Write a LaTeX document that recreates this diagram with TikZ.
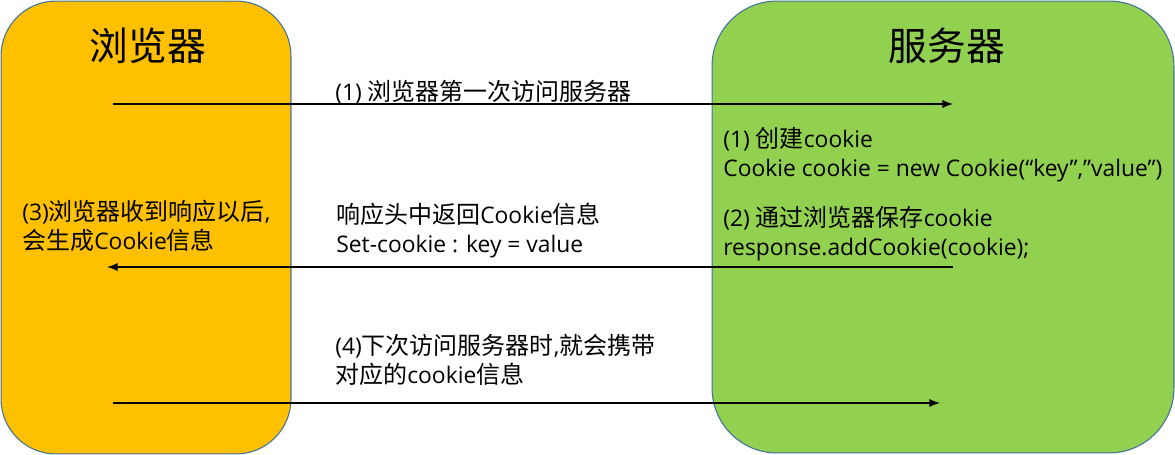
\documentclass[tikz,border=0pt]{standalone}
\usepackage{fontspec}
\setmainfont{Open Sans}
\newfontfamily\cjk[Scale=1.05]{Noto Sans CJK SC}
\usepackage{tikz}

\definecolor{browserfill}{HTML}{FFC000}
\definecolor{serverfill}{HTML}{92D050}
\definecolor{boxline}{HTML}{41719C}

\tikzset{
  side/.style={draw=boxline, line width=0.6pt, rounded corners=1.1cm, inner sep=0pt},
  title/.style={font=\cjk\fontsize{21}{26}\selectfont},
  note/.style={font=\fontsize{13}{16.5}\selectfont, align=left, anchor=west, inner sep=0pt},
  msg/.style={line width=1.1pt, -latex}
}

\begin{document}
\begin{tikzpicture}[x=0.02cm, y=-0.02cm]
      \useasboundingbox (0,0) rectangle (1175,455);
      % browser and server
      \node[side, fill=browserfill, minimum width=5.8cm, minimum height=9.06cm] (browser) at (146,227.5) {};
      \node[side, fill=serverfill, minimum width=9.24cm, minimum height=9.04cm, rounded corners=1.3cm] (server) at (943,227) {};
      \node[title] (browsertitle) at (148,46) {浏览器};
      \node[title] (servertitle) at (947,46) {服务器};
      % arrow ends
      \coordinate (firstfrom) at (113,104);
      \coordinate (firstto) at (953,104);
      \coordinate (replyfrom) at (953,267);
      \coordinate (replyto) at (107,267);
      \coordinate (nextfrom) at (113,403);
      \coordinate (nextto) at (940,403);
      \draw[msg] (firstfrom) -- (firstto);
      \draw[msg] (replyfrom) -- (replyto);
      \draw[msg] (nextfrom) -- (nextto);
      % texts
      \node[note] (firsttext) at (335,92) {(1) {\cjk 浏览器第一次访问服务器}};
      \node[note] (createtext) at (723,154.5) {(1) {\cjk 创建}cookie\\Cookie cookie = new Cookie(“key”,”value”)};
      \node[note] (savetext) at (723,233.5) {(2) {\cjk 通过浏览器保存}cookie\\response.addCookie(cookie);};
      \node[note] (replytext) at (336,231) {{\cjk 响应头中返回}Cookie{\cjk 信息}\\Set-cookie : key = value};
      \node[note] (gottext) at (22,226) {(3){\cjk 浏览器收到响应以后},\\{\cjk 会生成}Cookie{\cjk 信息}};
      \node[note] (nexttext) at (335,360) {(4){\cjk 下次访问服务器时},{\cjk 就会携带}\\{\cjk 对应的}cookie{\cjk 信息}};
\end{tikzpicture}
\end{document}
